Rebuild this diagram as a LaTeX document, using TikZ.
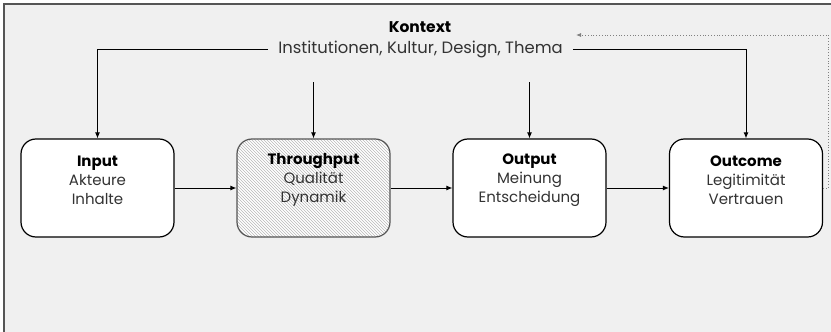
\documentclass[tikz,border=0pt]{standalone}
\usepackage{fontspec}
\setmainfont{Poppins}
\usetikzlibrary{arrows.meta,patterns}
\definecolor{bgc}{HTML}{F0F0F0}
\definecolor{framec}{HTML}{555555}
\definecolor{subc}{HTML}{333333}
\begin{document}
\begin{tikzpicture}[x=1pt,y=-1pt,
  box/.style={draw=black,line width=1.2pt,rounded corners=15pt,fill=white,minimum width=153pt,minimum height=98pt,inner sep=0pt},
  hbox/.style={draw=framec,line width=1.2pt,rounded corners=15pt,minimum width=153pt,minimum height=98pt,inner sep=0pt,preaction={fill=white},pattern=north west lines,pattern color=gray!55},
  btxt/.style={align=center,inner sep=0pt,font=\fontsize{15}{19}\selectfont},
  arr/.style={line width=0.9pt,-{Latex[length=6pt,width=5pt]}},
  fb/.style={draw=gray,dotted,line width=0.8pt,-{Latex[length=5pt,width=4pt]}}
]
\useasboundingbox (0,0) rectangle (831,332);
\fill[bgc] (4,4) rectangle (831,332);
\draw[framec,line width=1.4pt] (4,332) -- (4,4) -- (831,4);

\node[box]  (in) at (97.5,188) {};
\node[hbox] (tp) at (313.5,188) {};
\node[box]  (op) at (529.5,188) {};
\node[box]  (oc) at (746,188) {};

\node[btxt] (tin) at (97.5,180) {\textbf{Input}\\\color{subc}Akteure\\\color{subc}Inhalte};
\node[btxt] (ttp) at (313.5,180) {\textbf{Throughput}\\\color{subc}Qualität\\\color{subc}Dynamik};
\node[btxt] (top) at (529.5,180) {\textbf{Output}\\\color{subc}Meinung\\\color{subc}Entscheidung};
\node[btxt] (toc) at (746,180) {\textbf{Outcome}\\\color{subc}Legitimität\\\color{subc}Vertrauen};

\node[font=\fontsize{15.5}{18}\selectfont\bfseries,inner sep=0pt] (kt) at (420,27) {Kontext};
\node[font=\fontsize{16.4}{18}\selectfont,color=subc,inner xsep=10pt,inner ysep=0pt] (inst) at (420.5,49) {Institutionen, Kultur, Design, Thema};

\coordinate (c1) at (313.5,82);
\coordinate (c2) at (529.5,82);
\coordinate (fbend) at (576,35);

\draw[arr] (inst.west) -| (in.north);
\draw[arr] (inst.east) -| (oc.north);
\draw[arr] (c1) -- (tp.north);
\draw[arr] (c2) -- (op.north);
\draw[arr] (in.east) -- (tp.west);
\draw[arr] (tp.east) -- (op.west);
\draw[arr] (op.east) -- (oc.west);
\draw[fb] (oc.east) -- ++(5,0) |- (fbend);
\end{tikzpicture}
\end{document}
